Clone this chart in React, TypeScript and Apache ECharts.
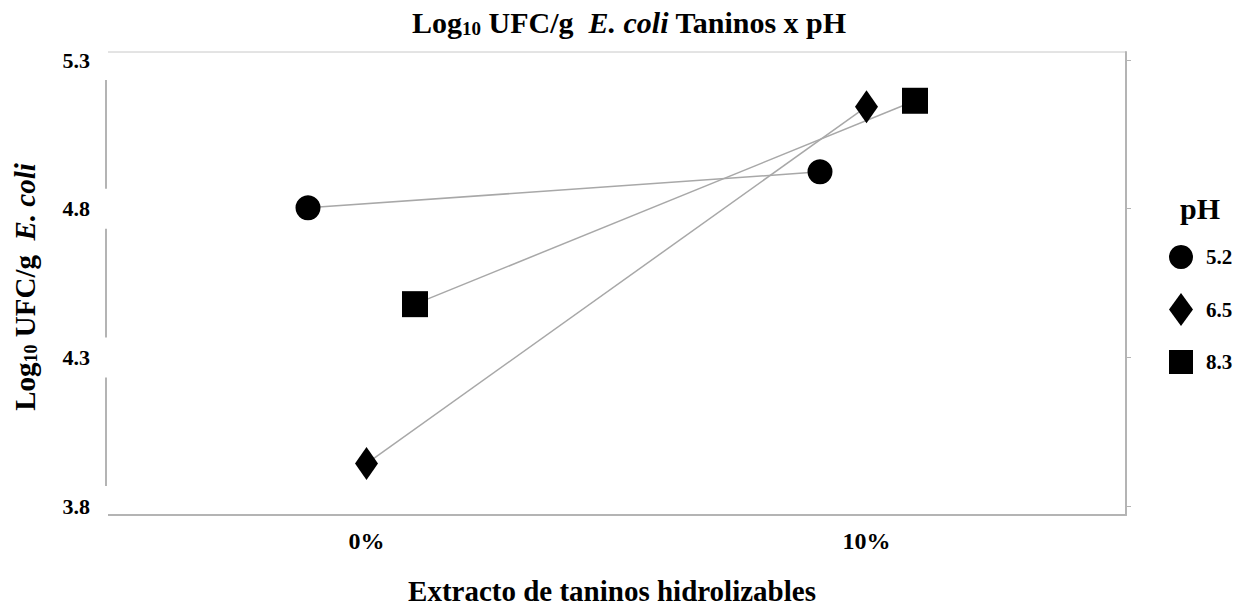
import React, { useEffect, useRef } from "react";
import * as echarts from "echarts";

const seriesNames = ["5.2", "6.5", "8.3"];
const xTickValues = [0, 1];
const xTickLabels = ["0%", "10%"];
const yTickValues = [3.8, 4.3, 4.8, 5.3];
// [x position (0 = 0%, 1 = 10%, with dodge offset), log10 UFC/g]
const ph52 = [
  [-0.117, 4.803],
  [0.907, 4.924],
];
const ph65 = [
  [0.0, 3.943],
  [1.0, 5.143],
];
const ph83 = [
  [0.097, 4.479],
  [1.097, 5.163],
];

const FONT = "'Liberation Serif', 'Times New Roman', serif";
const GRAY = "#b4b4b4";

export default function App() {
  const ref = useRef<HTMLDivElement>(null);
  useEffect(() => {
    if (!ref.current) return;
    const chart = echarts.init(ref.current, null, { renderer: "svg" });
    const mkRich = (size: number) => ({
      b: { fontFamily: FONT, fontWeight: "bold", fontSize: size, fill: "#000", color: "#000", lineHeight: size + 4 },
      s: {
        fontFamily: FONT,
        fontWeight: "bold",
        fontSize: Math.round(size * 0.62),
        fill: "#000",
        color: "#000",
        lineHeight: Math.round(size * 0.62) + 2,
        padding: [Math.round(size * 0.42), 0, 0, 0],
      },
      i: { fontFamily: FONT, fontWeight: "bold", fontStyle: "italic", fontSize: size, fill: "#000", color: "#000", lineHeight: size + 4 },
    });
    const lineStyle = { color: "#a8a8a8", width: 1.5 };
    chart.setOption({
      animation: false,
      backgroundColor: "#fff",
      grid: {
        left: 106,
        right: 115,
        top: 52,
        bottom: 92,
        show: true,
        borderColor: "#c8c8c8",
        borderWidth: 1,
      },
      legend: {
        orient: "vertical",
        left: 1164,
        top: 240,
        itemWidth: 24,
        itemHeight: 33,
        itemGap: 24,
        textStyle: {
          fontFamily: FONT,
          fontWeight: "bold",
          fontSize: 21,
          color: "#000",
          padding: [6, 0, 0, 8],
        },
        data: [
          { name: seriesNames[0], icon: "circle" },
          { name: seriesNames[1], icon: "path://M12,0 L24,16.5 L12,33 L0,16.5 Z" },
          { name: seriesNames[2], icon: "path://M0,0 L24,0 L24,24 L0,24 Z" },
        ],
      },
      graphic: [
        {
          type: "text",
          x: 412,
          y: 22,
          style: {
            text: "{b|Log}{s|10}{b| UFC/g  }{i|E. coli}{b| Taninos x pH}",
            rich: mkRich(30),
            textAlign: "left",
            textVerticalAlign: "middle",
          },
        },
        {
          type: "text",
          x: 612,
          y: 591,
          style: {
            text: "Extracto de taninos hidrolizables",
            fontFamily: FONT,
            fontWeight: "bold",
            fontSize: 29,
            fill: "#000",
            textAlign: "center",
            textVerticalAlign: "middle",
          },
        },
        {
          type: "text",
          x: 25,
          y: 287,
          rotation: Math.PI / 2,
          style: {
            text: "{b|Log}{s|10}{b| UFC/g  }{i|E. coli}",
            rich: mkRich(29),
            textAlign: "center",
            textVerticalAlign: "middle",
          },
        },
        {
          type: "text",
          x: 1200,
          y: 208,
          style: {
            text: "pH",
            fontFamily: FONT,
            fontWeight: "bold",
            fontSize: 30,
            fill: "#000",
            textAlign: "center",
            textVerticalAlign: "middle",
          },
        },
      ],
      xAxis: {
        type: "value",
        min: -0.521,
        max: 1.519,
        axisLine: { show: true, onZero: false, lineStyle: { color: GRAY, width: 2 } },
        axisTick: { show: false },
        splitLine: { show: false },
        axisLabel: {
          customValues: xTickValues,
          formatter: (v: number) => xTickLabels[xTickValues.indexOf(Math.round(v))] ?? "",
          margin: 14,
          fontFamily: FONT,
          fontWeight: "bold",
          fontSize: 24,
          color: "#000",
        },
      },
      yAxis: [
        {
          type: "value",
          min: 3.77,
          max: 5.327,
          position: "left",
          axisLine: { show: true, onZero: false, lineStyle: { color: GRAY, width: 2 } },
          axisTick: { show: false },
          splitLine: { show: false },
          axisLabel: {
            customValues: yTickValues,
            formatter: (v: number) => v.toFixed(1),
            margin: -2,
            padding: [16, 18, 2, 0],
            backgroundColor: "#fff",
            fontFamily: FONT,
            fontWeight: "bold",
            fontSize: 22,
            color: "#000",
          },
        },
        {
          type: "value",
          min: 3.77,
          max: 5.327,
          position: "right",
          axisLine: { show: true, onZero: false, lineStyle: { color: GRAY, width: 2 } },
          axisTick: {
            show: true,
            customValues: yTickValues,
            length: 5,
            lineStyle: { color: GRAY, width: 1 },
          },
          splitLine: { show: false },
          axisLabel: { show: false },
        },
      ],
      series: [
        {
          name: seriesNames[0],
          type: "line",
          data: ph52,
          symbol: "circle",
          symbolSize: 25,
          itemStyle: { color: "#000" },
          lineStyle,
        },
        {
          name: seriesNames[1],
          type: "line",
          data: ph65,
          symbol: "diamond",
          symbolSize: [23, 33],
          itemStyle: { color: "#000" },
          lineStyle,
        },
        {
          name: seriesNames[2],
          type: "line",
          data: ph83,
          symbol: "rect",
          symbolSize: 26,
          itemStyle: { color: "#000" },
          lineStyle,
        },
      ],
    });
    return () => chart.dispose();
  }, []);
  return (
    <div
      ref={ref}
      style={{ position: "fixed", left: 0, top: 0, width: 1241, height: 607, background: "#fff" }}
    />
  );
}
